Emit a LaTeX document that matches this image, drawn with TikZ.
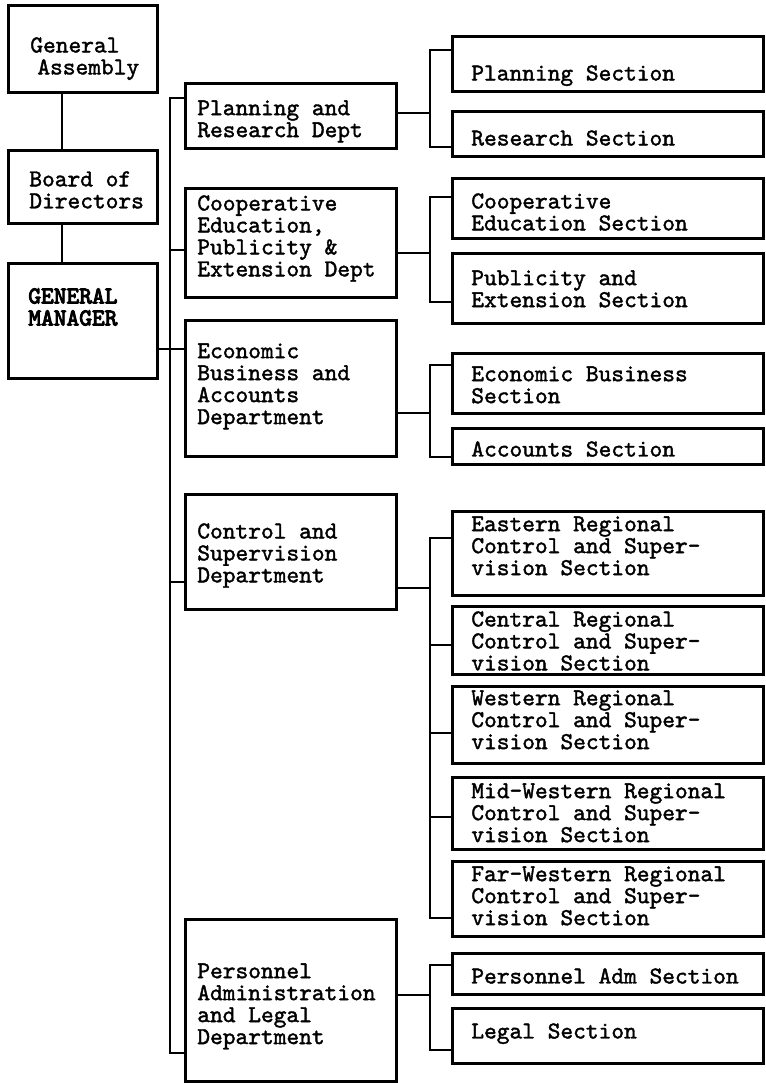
\documentclass[tikz,border=0pt]{standalone}
\usepackage{fontspec}
\newfontfamily\typew{lmmono10-regular.otf}[FakeBold=1.6]
\newfontfamily\typewb{lmmono10-regular.otf}[FakeBold=4]
\newcommand{\typefont}{\typew\fontsize{13.8}{12.5}\selectfont}
\tikzset{
  box/.style={draw, line width=1.5pt, inner sep=0pt, anchor=north west},
  ubox/.style={box, minimum width=149*0.02cm},
  dept/.style={box, minimum width=211*0.02cm},
  sec/.style={box, minimum width=311*0.02cm},
  tall/.style={minimum height=#1*0.02cm},
  txt/.style={anchor=north west, inner sep=0pt, align=left, font=\typefont},
  link/.style={line width=1.1pt},
}
\begin{document}
\begin{tikzpicture}[x=0.02cm,y=-0.02cm]
  \useasboundingbox (0,0) rectangle (765,1083);
  % top of the chart
  \node[ubox, tall=87] (ga) at (7,4) {};
  \node[ubox, tall=73] (board) at (7,149) {};
  \node[ubox, tall=115] (gm) at (7,262) {};
  \node[txt] (gat) at ([shift={(23,33)}]ga.north west) {General\\\hspace*{4pt}Assembly};
  \node[txt] (boardt) at ([shift={(22,22)}]board.north west) {Board of\\Directors};
  \node[txt, font=\typewb\fontsize{13.8}{12.5}\selectfont] (gmt) at ([shift={(21,26)}]gm.north west) {GENERAL\\MANAGER};
  % departments
  \node[dept, tall=65] (plan) at (184,82) {};
  \node[dept, tall=109] (coop) at (184,187) {};
  \node[dept, tall=136] (econ) at (184,319) {};
  \node[dept, tall=115] (ctrl) at (184,493) {};
  \node[dept, tall=162] (pers) at (184,918) {};
  \node[txt] (plant) at ([shift={(13,18)}]plan.north west) {Planning and\\Research Dept};
  \node[txt] (coopt) at ([shift={(13,8)}]coop.north west) {Cooperative\\Education,\\Publicity \&\\Extension Dept};
  \node[txt] (econt) at ([shift={(13,24)}]econ.north west) {Economic\\Business and\\Accounts\\Department};
  \node[txt] (ctrlt) at ([shift={(13,30)}]ctrl.north west) {Control and\\Supervision\\Department};
  \node[txt] (perst) at ([shift={(13,45)}]pers.north west) {Personnel\\Administration\\and Legal\\Department};
  % sections
  \node[sec, tall=55] (plansec) at (451,35) {};
  \node[sec, tall=45] (ressec) at (451,110) {};
  \node[sec, tall=60] (coopsec) at (451,177) {};
  \node[sec, tall=70] (pubsec) at (451,252) {};
  \node[sec, tall=60] (ebsec) at (451,352) {};
  \node[sec, tall=36] (accsec) at (451,427) {};
  \node[sec, tall=84] (eastsec) at (451,510) {};
  \node[sec, tall=68] (centsec) at (451,605) {};
  \node[sec, tall=77] (westsec) at (451,685) {};
  \node[sec, tall=72] (midsec) at (451,776) {};
  \node[sec, tall=75] (farsec) at (451,860) {};
  \node[sec, tall=41] (padmsec) at (451,952) {};
  \node[sec, tall=55] (legsec) at (451,1007) {};
  \node[txt] (plansect) at ([shift={(20,30)}]plansec.north west) {Planning Section};
  \node[txt] (ressect) at ([shift={(20,20)}]ressec.north west) {Research Section};
  \node[txt] (coopsect) at ([shift={(20,16)}]coopsec.north west) {Cooperative\\Education Section};
  \node[txt] (pubsect) at ([shift={(20,18)}]pubsec.north west) {Publicity and\\Extension Section};
  \node[txt] (ebsect) at ([shift={(20,14)}]ebsec.north west) {Economic Business\\Section};
  \node[txt] (accsect) at ([shift={(20,14)}]accsec.north west) {Accounts Section};
  \node[txt] (eastsect) at ([shift={(20,6)}]eastsec.north west) {Eastern Regional\\Control and Super-\\vision Section};
  \node[txt] (centsect) at ([shift={(20,6)}]centsec.north west) {Central Regional\\Control and Super-\\vision Section};
  \node[txt] (westsect) at ([shift={(20,5)}]westsec.north west) {Western Regional\\Control and Super-\\vision Section};
  \node[txt] (midsect) at ([shift={(20,7)}]midsec.north west) {Mid-Western Regional\\Control and Super-\\vision Section};
  \node[txt] (farsect) at ([shift={(20,6)}]farsec.north west) {Far-Western Regional\\Control and Super-\\vision Section};
  \node[txt] (padmsect) at ([shift={(20,16)}]padmsec.north west) {Personnel Adm Section};
  \node[txt] (legsect) at ([shift={(20,16)}]legsec.north west) {Legal Section};
  % lines
  \coordinate (bus) at (170,0);
  \coordinate (sub) at (430,0);
  \draw[link] (ga.south -| 62,0) -- (board.north -| 62,0);
  \draw[link] (board.south -| 62,0) -- (gm.north -| 62,0);
  \draw[link] (plan.west |- 0,98) -| (bus |- 0,1053) -- (pers.west |- 0,1053);
  \draw[link] (bus |- 0,250) -- (coop.west |- 0,250);
  \draw[link] (gm.east |- 0,349) -- (econ.west |- 0,349);
  \draw[link] (bus |- 0,582) -- (ctrl.west |- 0,582);
  \draw[link] (plan.east |- 0,113) -- (sub |- 0,113);
  \draw[link] (plansec.west |- 0,50) -| (sub |- 0,147) -- (ressec.west |- 0,147);
  \draw[link] (coop.east |- 0,253) -- (sub |- 0,253);
  \draw[link] (coopsec.west |- 0,197) -| (sub |- 0,302) -- (pubsec.west |- 0,302);
  \draw[link] (econ.east |- 0,413) -- (sub |- 0,413);
  \draw[link] (ebsec.west |- 0,365) -| (sub |- 0,457) -- (accsec.west |- 0,457);
  \draw[link] (ctrl.east |- 0,588) -- (sub |- 0,588);
  \draw[link] (eastsec.west |- 0,538) -| (sub |- 0,918) -- (farsec.west |- 0,918);
  \draw[link] (sub |- 0,645) -- (centsec.west |- 0,645);
  \draw[link] (sub |- 0,733) -- (westsec.west |- 0,733);
  \draw[link] (sub |- 0,817) -- (midsec.west |- 0,817);
  \draw[link] (pers.east |- 0,995) -- (sub |- 0,995);
  \draw[link] (padmsec.west |- 0,965) -| (sub |- 0,1050) -- (legsec.west |- 0,1050);
\end{tikzpicture}
\end{document}
